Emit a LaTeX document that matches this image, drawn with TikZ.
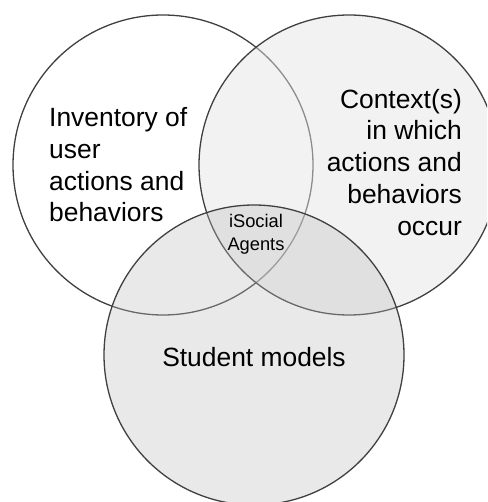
\documentclass[tikz,border=0pt]{standalone}
\usepackage{fontspec}
\setmainfont{Liberation Sans}

\begin{document}
\begin{tikzpicture}[x=1pt,y=-1pt,
        set/.style={draw=black!75, line width=1.3pt},
        big/.style={font=\fontsize{26.4}{31.7}\selectfont, inner sep=0pt},
        small/.style={font=\fontsize{18.3}{23}\selectfont, inner sep=0pt}]
        \clip (0,0) rectangle (487,502);
        \fill [white] (0,0) rectangle (487,502);
        % the three sets
        \draw [set, fill=white] (163,165) circle (150);
        \draw [set, fill=black!10, fill opacity=0.47] (349,165) circle (150);
        \draw [set, fill=black!26, fill opacity=0.33] (254,355) circle (150);
        % labels (base = baseline of the last line)
        \node [big, align=left, anchor=base west] (inventory) at (49,222)
            {Inventory of\\user\\actions and\\behaviors};
        \node [big, align=right, anchor=base east] (context) at (462,235)
            {Context(s)\\in which\\actions and\\behaviors\\occur};
        \node [small, align=center, anchor=base] (agents) at (256,251)
            {iSocial\\Agents};
        \node [big, anchor=base] (student) at (254,366) {Student models};
    \end{tikzpicture}
\end{document}
